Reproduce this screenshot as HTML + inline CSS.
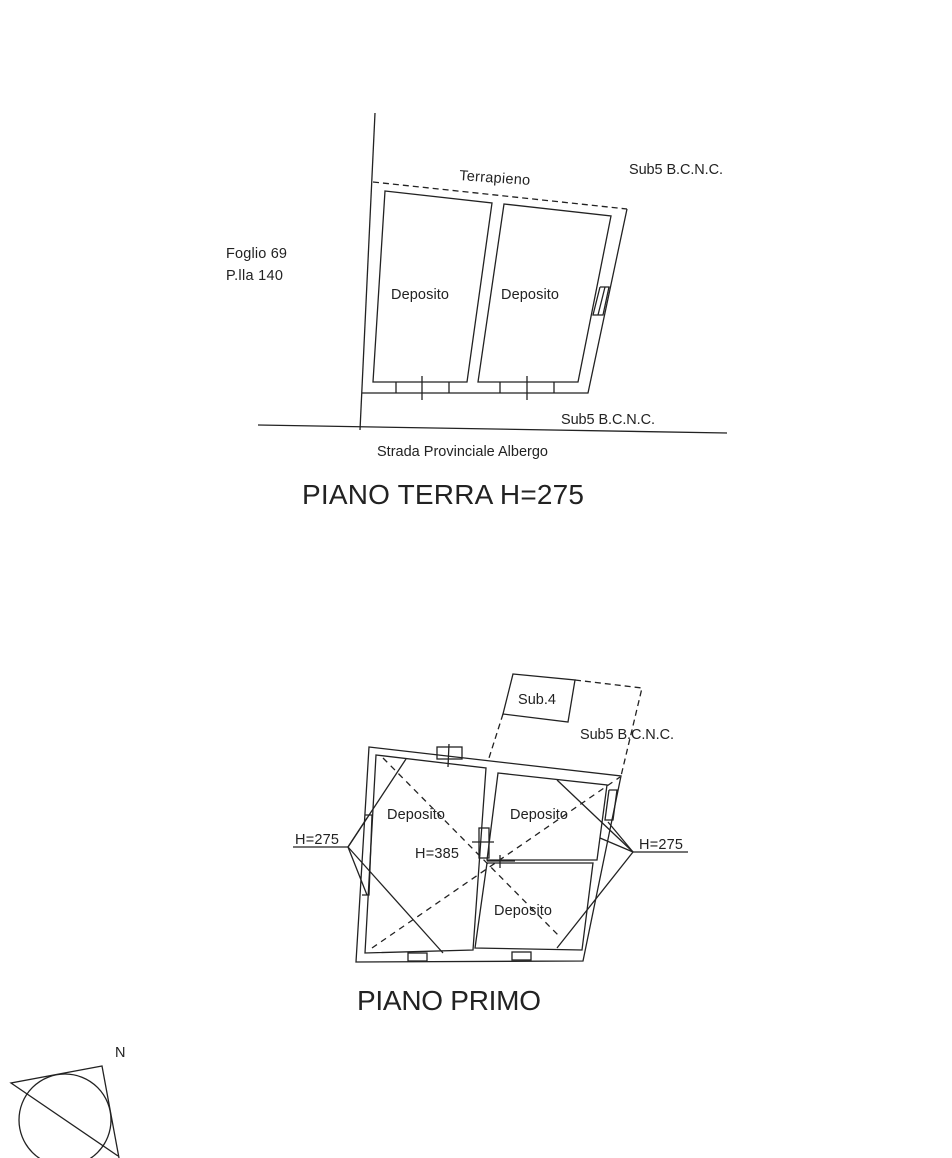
<!DOCTYPE html>
<html><head><meta charset="utf-8"><style>
html,body{margin:0;padding:0;background:#fff}
svg{display:block}
text{font-family:"Liberation Sans",sans-serif;fill:#222}
</style></head><body>
<svg width="952" height="1158" viewBox="0 0 952 1158" xmlns="http://www.w3.org/2000/svg">
<g fill="none" stroke="#222" stroke-width="1.3">
<line x1="375" y1="113" x2="360" y2="430"/>
<line x1="258" y1="425" x2="727" y2="433"/>
<polyline points="373,182 627,209" stroke-dasharray="6,4"/>
<polyline points="627,209 588,393 362,393"/>
<polygon points="385,191 492,203 467,382 373,382"/>
<polygon points="504,204 611,216 578,382 478,382"/>
<line x1="396" y1="382" x2="396" y2="393"/><line x1="449" y1="382" x2="449" y2="393"/>
<line x1="422" y1="376" x2="422" y2="400"/>
<line x1="500" y1="382" x2="500" y2="393"/><line x1="554" y1="382" x2="554" y2="393"/>
<line x1="527" y1="376" x2="527" y2="400"/>
<polyline points="600,287 609,287 603,315 593,315 600,287"/>
<line x1="605" y1="287" x2="598" y2="315"/>

<polygon points="513,674 575,680 568,722 503,714"/>
<polyline points="575,680 642,688 621,776" stroke-dasharray="6,4"/>
<polyline points="503,714 489,758" stroke-dasharray="6,4"/>
<polygon points="369,747 621,776 583,961 356,962"/>
<polygon points="376,755 486,768 473,950 365,953"/>
<polygon points="498,773 607,785 597,860 487,860"/>
<polygon points="487,863 593,863 582,950 475,948"/>
<rect x="437" y="747" width="25" height="12"/>
<line x1="449" y1="744" x2="448" y2="767"/>
<polyline points="365,815 372,815 369,895 362,895"/>
<polyline points="609,790 617,790 613,820 605,820 609,790"/>
<rect x="479" y="828" width="10" height="30"/>
<line x1="472" y1="842" x2="494" y2="842"/>
<line x1="487" y1="861" x2="515" y2="861"/>
<line x1="500" y1="855" x2="500" y2="868"/>
<rect x="408" y="953" width="19" height="8"/>
<rect x="512" y="952" width="19" height="8"/>
<line x1="383" y1="758" x2="560" y2="937" stroke-dasharray="6,5"/>
<line x1="372" y1="948" x2="620" y2="777" stroke-dasharray="6,5"/>
<line x1="293" y1="847" x2="348" y2="847"/>
<line x1="348" y1="847" x2="406" y2="759"/>
<line x1="348" y1="847" x2="367" y2="818"/>
<line x1="348" y1="847" x2="367" y2="895"/>
<line x1="348" y1="847" x2="443" y2="953"/>
<line x1="633" y1="852" x2="688" y2="852"/>
<line x1="633" y1="852" x2="557" y2="780"/>
<line x1="633" y1="852" x2="608" y2="822"/>
<line x1="633" y1="852" x2="600" y2="838"/>
<line x1="633" y1="852" x2="557" y2="948"/>
<circle cx="65" cy="1120" r="46"/>
<polyline points="119,1158 102,1066 11,1083 118,1156"/>
</g>
<g font-size="14.5">
<text x="459" y="180" textLength="71" transform="rotate(4 459 180)">Terrapieno</text>
<text x="629" y="174" textLength="94">Sub5 B.C.N.C.</text>
<text x="226" y="258" textLength="61">Foglio 69</text>
<text x="226" y="280" textLength="57">P.lla 140</text>
<text x="391" y="299" textLength="58">Deposito</text>
<text x="501" y="299" textLength="58">Deposito</text>
<text x="561" y="424" textLength="94">Sub5 B.C.N.C.</text>
<text x="377" y="456" textLength="171">Strada Provinciale Albergo</text>
<text x="518" y="704" textLength="38">Sub.4</text>
<text x="580" y="739" textLength="94">Sub5 B.C.N.C.</text>
<text x="387" y="819" textLength="58">Deposito</text>
<text x="510" y="819" textLength="58">Deposito</text>
<text x="415" y="858" textLength="44">H=385</text>
<text x="494" y="915" textLength="58">Deposito</text>
<text x="295" y="844" textLength="44">H=275</text>
<text x="639" y="849" textLength="44">H=275</text>
<text x="115" y="1057">N</text>
</g>
<text x="302" y="504" font-size="28" textLength="282">PIANO TERRA H=275</text>
<text x="357" y="1010" font-size="28" textLength="184">PIANO PRIMO</text>
</svg>
</body></html>
